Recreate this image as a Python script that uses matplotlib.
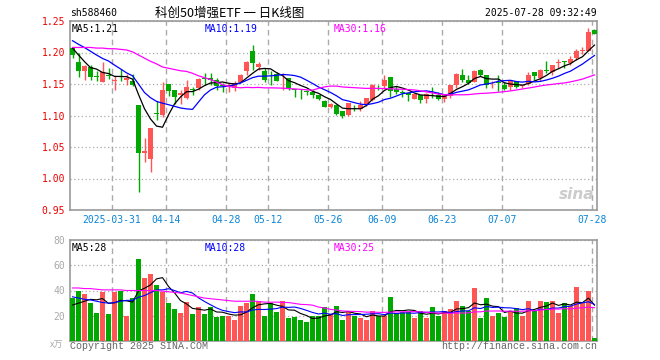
import numpy as np
import pandas as pd
import matplotlib
matplotlib.use("Agg")
import matplotlib.pyplot as plt

plt.rcParams['font.family'] = ['DejaVu Sans Mono', 'Noto Sans CJK SC']

# Trading days on the chart (CN market holidays taken out)
holidays = ["2025-04-04", "2025-05-01", "2025-05-02", "2025-05-05", "2025-06-02"]
dates = pd.bdate_range("2025-03-20", "2025-07-28")
dates = dates[~dates.isin(pd.to_datetime(holidays))]

tick_dates = ["2025-03-31", "2025-04-14", "2025-04-28", "2025-05-12", "2025-05-26",
              "2025-06-09", "2025-06-23", "2025-07-07", "2025-07-28"]
tick_labels = ["2025-03-31", "04-14", "04-28", "05-12", "05-26",
               "06-09", "06-23", "07-07", "07-28"]

# Daily OHLC
open_ = [1.207, 1.1855, 1.171, 1.1766, 1.162, 1.1527, 1.1645, 1.155, 1.162, 1.1565,
         1.1543, 1.117, 1.041, 1.031, 1.104, 1.101, 1.150, 1.140, 1.133, 1.128,
         1.142, 1.144, 1.1585, 1.160, 1.156, 1.148, 1.147, 1.144, 1.153, 1.170,
         1.202, 1.1775, 1.171, 1.163, 1.166, 1.159, 1.1595, 1.142, 1.141, 1.138,
         1.1376, 1.1325, 1.123, 1.1127, 1.117, 1.1065, 1.1013, 1.1155, 1.110, 1.1164,
         1.1242, 1.1485, 1.1465, 1.161, 1.1423, 1.137, 1.136, 1.1257, 1.1325, 1.1257,
         1.1346, 1.1325, 1.1257, 1.131, 1.149, 1.1636, 1.157, 1.1527, 1.1725, 1.1636,
         1.151, 1.153, 1.149, 1.1455, 1.1543, 1.147, 1.150, 1.1688, 1.1595, 1.1715,
         1.1683, 1.183, 1.1856, 1.183, 1.1906, 1.203, 1.202, 1.2358]
high = [1.209, 1.1995, 1.180, 1.180, 1.170, 1.1855, 1.176, 1.162, 1.1735, 1.1657,
        1.166, 1.117, 1.065, 1.080, 1.123, 1.153, 1.150, 1.140, 1.141, 1.157,
        1.145, 1.1595, 1.167, 1.167, 1.159, 1.152, 1.152, 1.154, 1.166, 1.1865,
        1.2115, 1.1845, 1.175, 1.170, 1.1685, 1.168, 1.160, 1.1425, 1.142, 1.140,
        1.141, 1.1325, 1.124, 1.120, 1.118, 1.1065, 1.1205, 1.117, 1.123, 1.1283,
        1.150, 1.149, 1.1636, 1.161, 1.1465, 1.140, 1.137, 1.1335, 1.1325, 1.136,
        1.145, 1.1377, 1.1325, 1.149, 1.1673, 1.1735, 1.1647, 1.1725, 1.174, 1.1636,
        1.154, 1.1647, 1.1527, 1.1553, 1.1543, 1.149, 1.1688, 1.1688, 1.174, 1.1865,
        1.180, 1.1896, 1.1865, 1.195, 1.205, 1.209, 1.2385, 1.237]
low = [1.191, 1.161, 1.157, 1.156, 1.154, 1.1527, 1.158, 1.140, 1.155, 1.149,
       1.1465, 0.979, 1.026, 1.011, 1.093, 1.098, 1.131, 1.119, 1.119, 1.126,
       1.1325, 1.141, 1.149, 1.149, 1.140, 1.1375, 1.1375, 1.139, 1.153, 1.165,
       1.172, 1.1725, 1.1527, 1.149, 1.154, 1.141, 1.140, 1.130, 1.1257, 1.1325,
       1.127, 1.124, 1.1127, 1.112, 1.101, 1.0956, 1.100, 1.1075, 1.1065, 1.115,
       1.1235, 1.141, 1.1423, 1.130, 1.1335, 1.129, 1.123, 1.1257, 1.1195, 1.1195,
       1.1273, 1.124, 1.122, 1.128, 1.144, 1.153, 1.150, 1.1527, 1.162, 1.143,
       1.144, 1.1387, 1.1397, 1.141, 1.143, 1.144, 1.149, 1.157, 1.155, 1.1673,
       1.1647, 1.176, 1.176, 1.180, 1.188, 1.197, 1.202, 1.2286]
close = [1.196, 1.1714, 1.1787, 1.1616, 1.161, 1.1688, 1.163, 1.156, 1.161, 1.1595,
         1.149, 1.041, 1.043, 1.080, 1.103, 1.140, 1.139, 1.130, 1.135, 1.145,
         1.141, 1.158, 1.158, 1.156, 1.1475, 1.1465, 1.148, 1.152, 1.165, 1.1855,
         1.184, 1.182, 1.157, 1.162, 1.1553, 1.160, 1.1423, 1.141, 1.140, 1.1375,
         1.132, 1.1257, 1.114, 1.118, 1.1023, 1.0987, 1.1205, 1.1148, 1.1169, 1.1283,
         1.149, 1.148, 1.157, 1.139, 1.1377, 1.136, 1.132, 1.1335, 1.124, 1.1345,
         1.134, 1.1257, 1.1325, 1.149, 1.1657, 1.156, 1.1517, 1.1714, 1.1647, 1.149,
         1.152, 1.152, 1.142, 1.1543, 1.145, 1.148, 1.1647, 1.162, 1.1725, 1.171,
         1.180, 1.1855, 1.185, 1.190, 1.202, 1.204, 1.2333, 1.2296]
# Volume, in 万 (10k)
volume = [34, 40, 37, 30, 22, 39, 21, 39, 40, 20, 34, 65, 50, 53, 44, 39, 30, 25, 22, 31,
          21, 27, 21, 27, 19, 20, 20, 16.5, 28, 30, 37, 32, 20, 30, 23, 32, 18, 19, 17, 15,
          20, 20, 27, 21, 28, 17, 24, 20, 18, 17, 24, 20, 20, 35, 22, 23, 23, 18, 24, 18,
          27, 20, 23.5, 25, 31.5, 28, 24, 42, 18, 34, 20, 22, 19, 23.5, 26, 20, 31.5, 24,
          32, 31, 32, 22, 30, 27.5, 42.5, 30, 40, 2]

# Moving-average values at the left edge (history before the window)
ma5_head = [1.207, 1.196, 1.1855, 1.176]
ma10_head = [1.2187, 1.213, 1.2078, 1.202, 1.196, 1.1906, 1.1865, 1.180, 1.174]
ma30_head = [1.208, 1.208, 1.208, 1.208, 1.207, 1.207, 1.206, 1.206, 1.205, 1.204,
             1.201, 1.196, 1.191, 1.186, 1.182, 1.177, 1.175, 1.173, 1.171, 1.170,
             1.167, 1.163, 1.160, 1.157, 1.153, 1.149, 1.146, 1.145, 1.144]
vma5_head = [28.5, 30, 31.5, 33]
vma10_head = [35, 34, 33, 32.5, 31.5, 30.5, 30, 30.5, 31.5]
vma30_head = [42, 42, 41.5, 41.5, 41, 40.5, 40.5, 40.5, 40.5, 40, 40, 40, 40, 40, 40,
              39.5, 39, 38.5, 38, 37, 36, 35, 34, 33.5, 33, 32.5, 32, 31.5, 31.5]

RED = "#ff5555"
GREEN = "#00a800"
GRID = "#aaaaaa"
FRAME = "#999999"


def moving_avg(values, n, head):
    s = pd.Series(values, dtype=float).rolling(n).mean()
    s.iloc[:len(head)] = head
    return s.values


o = np.array(open_)
c = np.array(close)
x = np.arange(len(c))
colors = np.where(c >= o, RED, GREEN)

fig = plt.figure(figsize=(6.6, 3.6), dpi=100)
ax = fig.add_axes([70 / 660, 150 / 360, 527 / 660, 189 / 360])
axv = fig.add_axes([70 / 660, 19 / 360, 527 / 660, 101 / 360])

tick_pos = [dates.get_loc(pd.Timestamp(d)) - 0.4 for d in tick_dates]

# Candles
ax.vlines(x, low, high, color=colors, lw=1, zorder=3)
body = np.maximum(np.abs(c - o), 0.0009)
ax.bar(x, body, bottom=np.minimum(o, c), width=0.82, color=colors, lw=0, zorder=3)

ax.plot(x, moving_avg(close, 5, ma5_head), color="black", lw=0.9, zorder=4)
ax.plot(x, moving_avg(close, 10, ma10_head), color="#0000ff", lw=0.9, zorder=4)
ax.plot(x, moving_avg(close, 30, ma30_head), color="#ff00ff", lw=0.9, zorder=4)

ax.set_xlim(-0.42, len(c) - 0.58)
ax.set_ylim(0.95, 1.25)
yt = np.arange(0.95, 1.2501, 0.05)
ax.set_yticks(yt)
ax.set_yticklabels([f"{v:.2f}" for v in yt], color="#ee0000", fontsize=7)
ax.set_xticks(tick_pos)
ax.set_xticklabels(tick_labels, color="#0a84d6", fontsize=7)
ax.tick_params(length=0, pad=3.5)
ax.grid(axis="y", color=GRID, ls=(0, (1, 2)), lw=0.9)
ax.grid(axis="x", color=GRID, ls=(0, (4, 3)), lw=1)

ax.text(0.004, 0.985, "MA5:1.21", transform=ax.transAxes, ha="left", va="top", fontsize=7, color="black")
ax.text(0.255, 0.985, "MA10:1.19", transform=ax.transAxes, ha="left", va="top", fontsize=7, color="#0000ff")
ax.text(0.50, 0.985, "MA30:1.16", transform=ax.transAxes, ha="left", va="top", fontsize=7, color="#ff00ff")
ax.text(0.995, 0.04, "sina", transform=ax.transAxes, ha="right", va="bottom", fontsize=11,
        color="#cccccc", style="italic", fontweight="bold", family="DejaVu Sans")

# Volume
axv.bar(x, volume, width=0.82, color=colors, lw=0, zorder=3)
axv.plot(x, moving_avg(volume, 5, vma5_head), color="black", lw=0.8, zorder=4)
axv.plot(x, moving_avg(volume, 10, vma10_head), color="#0000ff", lw=0.8, zorder=4)
axv.plot(x, moving_avg(volume, 30, vma30_head), color="#ff00ff", lw=0.8, zorder=4)

axv.set_xlim(-0.42, len(c) - 0.58)
axv.set_ylim(0, 80)
axv.set_yticks([20, 40, 60, 80])
axv.set_yticklabels(["20", "40", "60", "80"], color="#aaaaaa", fontsize=7)
axv.set_xticks(tick_pos)
axv.set_xticklabels([])
axv.tick_params(length=0, pad=3.5)
axv.grid(axis="y", color=GRID, ls=(0, (1, 2)), lw=0.9)
axv.grid(axis="x", color=GRID, ls=(0, (4, 3)), lw=1)

axv.text(0.004, 0.97, "MA5:28", transform=axv.transAxes, ha="left", va="top", fontsize=7, color="black")
axv.text(0.255, 0.97, "MA10:28", transform=axv.transAxes, ha="left", va="top", fontsize=7, color="#0000ff")
axv.text(0.50, 0.97, "MA30:25", transform=axv.transAxes, ha="left", va="top", fontsize=7, color="#ff00ff")

for a in (ax, axv):
    a.set_axisbelow(True)
    for sp in a.spines.values():
        sp.set_color(FRAME)
        sp.set_linewidth(1.2)

# Header and footer texts
fig.text(70 / 660, 1 - 13 / 360, "sh588460", ha="left", va="center", fontsize=7, color="black")
fig.text(230 / 660, 1 - 13 / 360, "科创50增强ETF 一 日K线图", ha="center", va="center", fontsize=9,
         color="black", family=["Noto Sans CJK SC", "DejaVu Sans"])
fig.text(597 / 660, 1 - 13 / 360, "2025-07-28 09:32:49", ha="right", va="center", fontsize=7, color="black")
fig.text(63 / 660, 1 - 345 / 360, "x万", ha="right", va="center", fontsize=6.5, color="#aaaaaa",
         style="italic", family=["Noto Sans CJK SC", "DejaVu Sans"])
fig.text(70 / 660, 1 - 346 / 360, "Copyright 2025 SINA.COM", ha="left", va="center", fontsize=7.2,
         color="#666666", family="Liberation Mono")
fig.text(597 / 660, 1 - 346 / 360, "http://finance.sina.com.cn", ha="right", va="center", fontsize=7.2,
         color="#666666", family="Liberation Mono")

plt.savefig("out.png", dpi=100)
plt.close()
